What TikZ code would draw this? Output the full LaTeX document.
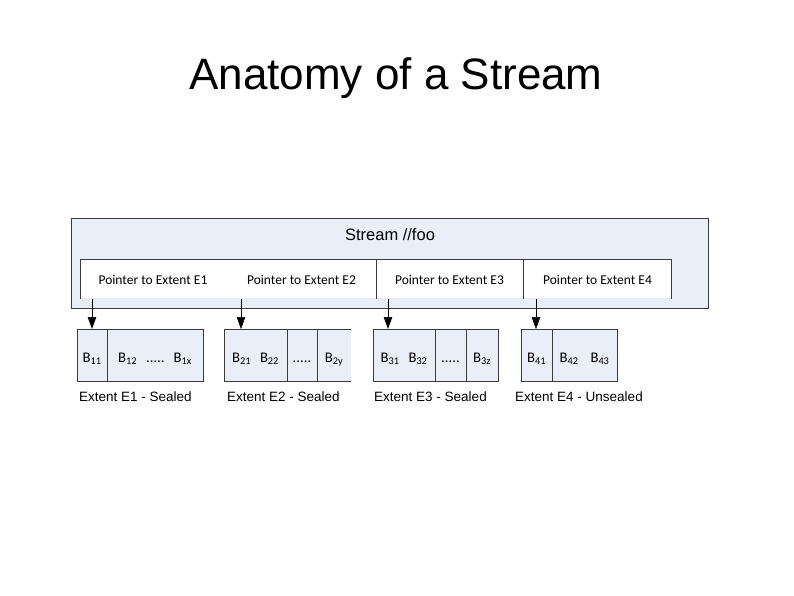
\documentclass[tikz,border=0pt]{standalone}
\usepackage{fontspec}
\setmainfont{Liberation Sans}
\newfontfamily\calib{Carlito}
\usetikzlibrary{positioning,arrows.meta}

\definecolor{boxblue}{RGB}{234,238,248}
\definecolor{edgegray}{RGB}{60,60,60}
\newcommand{\blkid}[1]{B\textsubscript{#1}}

\begin{document}
\begin{tikzpicture}[x=1pt, y=-1pt,
  cell/.style={rectangle, draw=edgegray, fill=boxblue, line width=0.8pt, minimum height=52pt, inner sep=0pt, outer sep=0pt, text height=16pt, text depth=2pt, font=\calib\fontsize{14.7}{16}\selectfont},
  ptrtext/.style={anchor=base, font=\calib\fontsize{13.5}{15}\selectfont},
  extlabel/.style={anchor=base west, inner sep=0pt, font=\fontsize{13.5}{15}\selectfont},
  ptrarrow/.style={-{Triangle[width=8.5pt,length=12pt]}, line width=0.9pt}]
\useasboundingbox (0,0) rectangle (794,595);

% title
\node[anchor=base, font=\fontsize{44}{48}\selectfont] (title) at (396,89) {Anatomy of a Stream};

% stream box with the pointer table
\draw[edgegray, fill=boxblue, line width=0.8pt] (71,218) rectangle (708,308);
\node[anchor=base, font=\fontsize{16.5}{18}\selectfont] (stream) at (390,240) {Stream //foo};
\fill[white] (80,259) rectangle (671,298);
\draw[edgegray, line width=0.8pt] (80,299) -- (80,259) -- (671,259) -- (671,299);
\draw[edgegray, line width=0.8pt] (376,259) -- (376,299);
\draw[edgegray, line width=0.8pt] (523,259) -- (523,299);
\node[ptrtext] (ptr1) at (153,284) {Pointer to Extent E1};
\node[ptrtext] (ptr2) at (301.5,284) {Pointer to Extent E2};
\node[ptrtext] (ptr3) at (449.5,284) {Pointer to Extent E3};
\node[ptrtext] (ptr4) at (597.5,284) {Pointer to Extent E4};

% extent E1
\node[cell, minimum width=30pt] (b11) at (92,355) {\blkid{11}};
\node[cell, minimum width=96pt] (b12) at (155,355) {\blkid{12}\hspace{9pt}.....\hspace{9pt}\blkid{1x}};
% extent E2 (open on the right)
\node[cell, draw=none, minimum width=34pt] (b2y) at (334,355) {\blkid{2y}};
\node[cell, minimum width=63pt] (b21) at (255.5,355) {\blkid{21}\hspace{9pt}\blkid{22}};
\node[cell, minimum width=30pt] (dots2) at (302,355) {.....};
\draw[edgegray, line width=0.8pt] (dots2.north east) -- (b2y.north east) (dots2.south east) -- (b2y.south east);
% extent E3
\node[cell, minimum width=62pt] (b31) at (404,355) {\blkid{31}\hspace{9pt}\blkid{32}};
\node[cell, minimum width=31pt] (dots3) at (450.5,355) {.....};
\node[cell, minimum width=32pt] (b3z) at (482,355) {\blkid{3z}};
% extent E4
\node[cell, minimum width=31pt] (b41) at (536.5,355) {\blkid{41}};
\node[cell, minimum width=65pt] (b42) at (584.5,355) {\blkid{42}\hspace{12pt}\blkid{43}};

% labels
\node[extlabel] (lab1) at (79,401) {Extent E1 - Sealed};
\node[extlabel] (lab2) at (227,401) {Extent E2 - Sealed};
\node[extlabel] (lab3) at (374,401) {Extent E3 - Sealed};
\node[extlabel] (lab4) at (515,401) {Extent E4 - Unsealed};

% pointers
\coordinate (p1) at (92,299);
\coordinate (p2) at (241,299);
\coordinate (p3) at (388,299);
\coordinate (p4) at (536,299);
\draw[ptrarrow] (p1) -- (p1 |- b11.north);
\draw[ptrarrow, line width=0.5pt] (p2) -- (p2 |- b21.north);
\draw[ptrarrow] (p3) -- (p3 |- b31.north);
\draw[ptrarrow, line width=0.5pt] (p4) -- (p4 |- b41.north);
\end{tikzpicture}
\end{document}
